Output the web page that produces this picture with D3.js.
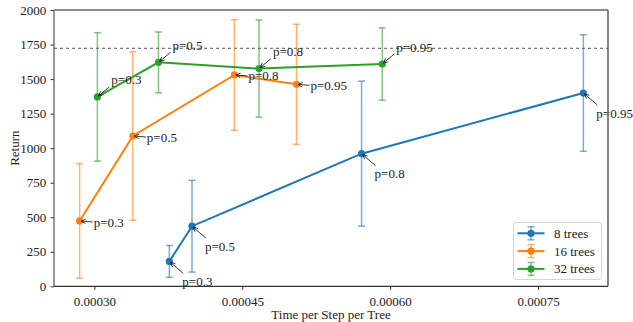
<!DOCTYPE html>
<html>
<head>
<meta charset="utf-8">
<script src="https://cdn.jsdelivr.net/npm/d3@7"></script>
<style>
  html, body { margin: 0; padding: 0; background: #fff; }
  svg text { font-family: "Liberation Serif", "DejaVu Serif", serif; fill: #222; }
</style>
</head>
<body>
<svg id="chart" width="633" height="322" font-family="'Liberation Serif', serif"></svg>
<script>
// Mean return and standard deviation for each forest size at four sampling rates p
const pLabels = ["p=0.3", "p=0.5", "p=0.8", "p=0.95"];

const time8  = [0.000376, 0.000399, 0.000571, 0.000796];
const ret8   = [180, 435, 960, 1399];
const std8   = [115, 332, 525, 422];

const time16 = [0.000285, 0.000339, 0.000442, 0.000505];
const ret16  = [473, 1088, 1530, 1462];
const std16  = [415, 610, 400, 435];

const time32 = [0.000303, 0.000365, 0.000467, 0.000592];
const ret32  = [1371, 1621, 1576, 1609];
const std32  = [465, 220, 352, 262];

const referenceReturn = 1723;

const xTicks = [0.00030, 0.00045, 0.00060, 0.00075];
const yTicks = [0, 250, 500, 750, 1000, 1250, 1500, 1750, 2000];

const seriesNames = ["8 trees", "16 trees", "32 trees"];

const series = [
  { name: seriesNames[0], t: time8,  r: ret8,  s: std8,  color: "#1f77b4",
    text: [13, 20], arrow: [14, 12] },
  { name: seriesNames[1], t: time16, r: ret16, s: std16, color: "#ff7f0e",
    text: [14, 1],  arrow: [13, 1] },
  { name: seriesNames[2], t: time32, r: ret32, s: std32, color: "#2ca02c",
    text: [14, -17], arrow: [12, -10] }
];

const svg = d3.select("#chart");
const plotL = 54, plotR = 608, plotT = 10, plotB = 286.3;

const x = d3.scaleLinear().domain([0.000259, 0.000821]).range([plotL, plotR]);
const y = d3.scaleLinear().domain([0, 2000]).range([plotB, plotT]);

// reference level
svg.append("line")
  .attr("x1", plotL).attr("x2", plotR)
  .attr("y1", y(referenceReturn)).attr("y2", y(referenceReturn))
  .attr("stroke", "#555").attr("stroke-width", 1)
  .attr("stroke-dasharray", "3,3");

// axes
const xAxis = d3.axisBottom(x).tickValues(xTicks).tickFormat(d3.format(".5f"))
  .tickSize(3.5).tickSizeOuter(0);
const yAxis = d3.axisLeft(y).tickValues(yTicks).tickFormat(d3.format("d"))
  .tickSize(3.5).tickSizeOuter(0);

const gx = svg.append("g").attr("transform", `translate(0,${plotB})`).call(xAxis);
const gy = svg.append("g").attr("transform", `translate(${plotL},0)`).call(yAxis);
[gx, gy].forEach(g => {
  g.attr("font-family", null).attr("font-size", null);
  g.select(".domain").remove();
  g.selectAll(".tick line").attr("stroke", "#000").attr("stroke-width", 0.8);
  g.selectAll(".tick text").style("font-size", "13px").attr("fill", "#222")
    .style("font-family", "'Liberation Serif', serif");
});
gx.selectAll(".tick text").attr("dy", "1.0em");
gy.selectAll(".tick text").attr("dx", "-0.1em");

// error bars, lines and markers
series.forEach(sr => {
  const pts = sr.t.map((t, i) => ({ t, r: sr.r[i], s: sr.s[i], label: pLabels[i] }));
  const eb = svg.append("g").attr("stroke", sr.color).attr("stroke-width", 1.5)
    .attr("stroke-opacity", 0.6);
  pts.forEach(p => {
    const cx = x(p.t);
    eb.append("line").attr("x1", cx).attr("x2", cx)
      .attr("y1", y(p.r - p.s)).attr("y2", y(p.r + p.s));
    [p.r - p.s, p.r + p.s].forEach(v => {
      eb.append("line").attr("x1", cx - 3.5).attr("x2", cx + 3.5)
        .attr("y1", y(v)).attr("y2", y(v));
    });
  });
  svg.append("path").datum(pts)
    .attr("fill", "none").attr("stroke", sr.color).attr("stroke-width", 2)
    .attr("d", d3.line().x(d => x(d.t)).y(d => y(d.r)));
  svg.append("g").selectAll("circle").data(pts).join("circle")
    .attr("cx", d => x(d.t)).attr("cy", d => y(d.r)).attr("r", 3.6)
    .attr("fill", sr.color);
  sr.pts = pts;
});

// annotations with open arrowheads
function arrow(g, x0, y0, x1, y1) {
  const ang = Math.atan2(y1 - y0, x1 - x0);
  const len = Math.hypot(x1 - x0, y1 - y0);
  const ex = x0 + Math.cos(ang) * (len - 1.5), ey = y0 + Math.sin(ang) * (len - 1.5);
  g.append("line").attr("x1", x0).attr("y1", y0).attr("x2", ex).attr("y2", ey);
  const hl = 5, hw = 0.45;
  const p1 = [ex - hl * Math.cos(ang - hw), ey - hl * Math.sin(ang - hw)];
  const p2 = [ex - hl * Math.cos(ang + hw), ey - hl * Math.sin(ang + hw)];
  g.append("path").attr("fill", "none")
    .attr("d", `M${p1[0]},${p1[1]}L${ex},${ey}L${p2[0]},${p2[1]}`);
}

const ann = svg.append("g");
series.forEach(sr => {
  sr.pts.forEach(p => {
    const px = x(p.t), py = y(p.r);
    const ag = ann.append("g").attr("stroke", "#222").attr("stroke-width", 0.9);
    arrow(ag, px + sr.arrow[0], py + sr.arrow[1], px, py);
    ann.append("text")
      .attr("x", px + sr.text[0]).attr("y", py + sr.text[1])
      .attr("dy", "0.35em").style("font-size", "13px")
      .text(p.label);
  });
});

// frame
svg.append("line").attr("x1", plotL).attr("x2", plotR).attr("y1", plotB).attr("y2", plotB)
  .attr("stroke", "#000").attr("stroke-width", 1);
svg.append("line").attr("x1", plotL).attr("x2", plotL).attr("y1", plotT).attr("y2", plotB)
  .attr("stroke", "#333").attr("stroke-width", 1);
svg.append("line").attr("x1", plotL).attr("x2", plotR).attr("y1", plotT).attr("y2", plotT)
  .attr("stroke", "#666").attr("stroke-width", 1.6);
svg.append("line").attr("x1", plotR).attr("x2", plotR).attr("y1", plotT).attr("y2", plotB)
  .attr("stroke", "#666").attr("stroke-width", 1.6);

// axis titles
svg.append("text").attr("x", (plotL + plotR) / 2).attr("y", 314)
  .attr("text-anchor", "middle").attr("dy", "0.35em").style("font-size", "13px")
  .text("Time per Step per Tree");
svg.append("text").attr("transform", `translate(14,${(plotT + plotB) / 2}) rotate(-90)`)
  .attr("text-anchor", "middle").attr("dy", "0.35em").style("font-size", "13px")
  .text("Return");

// legend
const lg = svg.append("g").attr("transform", "translate(513.5,222.5)");
lg.append("rect").attr("width", 88).attr("height", 57).attr("rx", 2.5)
  .attr("fill", "#fff").attr("fill-opacity", 0.85)
  .attr("stroke", "#ccc").attr("stroke-width", 0.8);
series.forEach((sr, i) => {
  const ry = 10.8 + i * 17.8;
  const row = lg.append("g").attr("transform", `translate(0,${ry})`);
  const eg = row.append("g").attr("stroke", sr.color).attr("stroke-width", 1.5).attr("stroke-opacity", 0.6);
  eg.append("line").attr("x1", 17.5).attr("x2", 17.5).attr("y1", -6.5).attr("y2", 6.5);
  eg.append("line").attr("x1", 14).attr("x2", 21).attr("y1", -6.5).attr("y2", -6.5);
  eg.append("line").attr("x1", 14).attr("x2", 21).attr("y1", 6.5).attr("y2", 6.5);
  row.append("line").attr("x1", 4).attr("x2", 31).attr("y1", 0).attr("y2", 0)
    .attr("stroke", sr.color).attr("stroke-width", 2);
  row.append("circle").attr("cx", 17.5).attr("cy", 0).attr("r", 3.6).attr("fill", sr.color);
  row.append("text").attr("x", 40.5).attr("y", 0).attr("dy", "0.35em")
    .style("font-size", "13px").text(sr.name);
});
</script>
</body>
</html>
